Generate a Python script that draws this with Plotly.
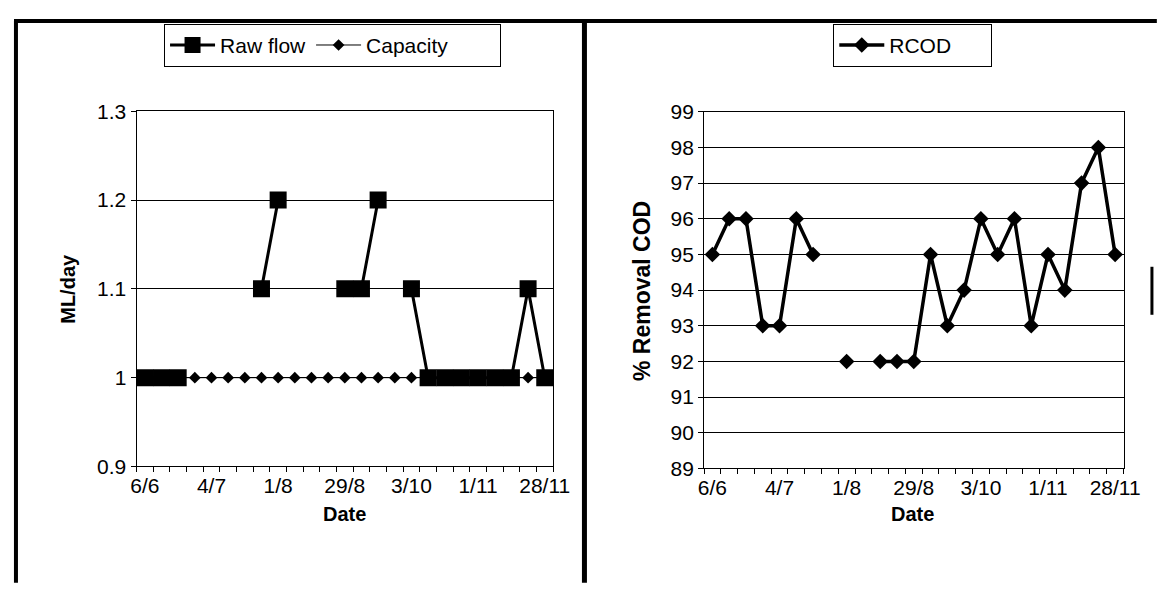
import plotly.graph_objects as go

# ---------------- data ----------------
dates = ["6/6", "13/6", "20/6", "27/6", "4/7", "11/7", "18/7", "25/7", "1/8",
         "8/8", "15/8", "22/8", "29/8", "12/9", "19/9", "26/9", "3/10", "10/10",
         "17/10", "24/10", "1/11", "8/11", "15/11", "22/11", "28/11"]
raw_flow = [1.0, 1.0, 1.0, None, None, None, None, 1.1, 1.2, None, None, None,
            1.1, 1.1, 1.2, None, 1.1, 1.0, 1.0, 1.0, 1.0, 1.0, 1.0, 1.1, 1.0]
capacity = [1.0] * 25
rcod = [95, 96, 96, 93, 93, 96, 95, None, 92, None, 92, 92, 92, 95, 93, 94,
        96, 95, 96, 93, 95, 94, 97, 98, 95]
left_yticks = [0.9, 1.0, 1.1, 1.2, 1.3]
left_yticktext = ["0.9", "1", "1.1", "1.2", "1.3"]
right_yticks = list(range(89, 100))

idx = list(range(len(dates)))
# the page body has an 8px margin; the figure is sized to fit inside the window
OFF = 8
W, H = 1174 - 2 * OFF, 594 - 2 * OFF
FONT = "Liberation Sans, Arial, sans-serif"
FS = 21
NB = "\u00a0"

def px_x(p):
    return (p - OFF) / W

def px_y(p):
    return 1 - (p - OFF) / H

fig = go.Figure()

fig.add_trace(go.Scatter(x=idx, y=capacity, name="Capacity" + NB * 8, mode="lines+markers",
                         line=dict(color="black", width=1),
                         marker=dict(symbol="diamond", size=9, color="black"),
                         xaxis="x", yaxis="y", legend="legend", legendrank=2))
fig.add_trace(go.Scatter(x=idx, y=raw_flow, name="Raw flow", mode="lines+markers",
                         line=dict(color="black", width=3),
                         marker=dict(symbol="square", size=17, color="black"),
                         xaxis="x", yaxis="y", legend="legend", legendrank=1))
fig.add_trace(go.Scatter(x=idx, y=rcod, name="RCOD" + NB * 6, mode="lines+markers",
                         line=dict(color="black", width=3.5),
                         marker=dict(symbol="diamond", size=12, color="black"),
                         xaxis="x2", yaxis="y2", legend="legend2"))

common_x = dict(range=[-0.5, len(dates) - 0.5], tickvals=idx[::4], ticktext=dates[::4],
                ticks="", showgrid=False, zeroline=False, showline=True,
                linecolor="black", linewidth=1, mirror=True,
                tickfont=dict(family=FONT, size=FS, color="black"),
                minor=dict(tickvals=[i - 0.5 for i in range(len(dates) + 1)],
                           ticks="outside", ticklen=5, tickcolor="black", showgrid=False))
common_y = dict(showgrid=True, gridcolor="black", gridwidth=1, zeroline=False,
                showline=True, linecolor="black", linewidth=1, mirror=True,
                ticks="outside", ticklen=5, tickcolor="black",
                tickfont=dict(family=FONT, size=FS, color="black"))

fig.update_layout(
    width=W, height=H, margin=dict(l=0, r=0, t=0, b=0),
    paper_bgcolor="white", plot_bgcolor="white",
    font=dict(family=FONT, size=FS, color="black"),
    xaxis=dict(domain=[px_x(133), px_x(558)], anchor="y", **common_x),
    yaxis=dict(domain=[px_y(473), px_y(103)], anchor="x", range=[0.9, 1.3],
               tickvals=left_yticks, ticktext=left_yticktext, **common_y),
    xaxis2=dict(domain=[px_x(712), px_x(1140)], anchor="y2", **common_x),
    yaxis2=dict(domain=[px_y(475), px_y(103.6)], anchor="x2", range=[89, 99],
                tickvals=right_yticks, **common_y),
    legend=dict(orientation="h", x=px_x(333), xanchor="center", y=px_y(12), yanchor="top",
                bordercolor="black", borderwidth=1, bgcolor="white",
                font=dict(family=FONT, size=FS, color="black"),
                traceorder="normal", itemwidth=45),
    legend2=dict(orientation="h", x=px_x(925), xanchor="center", y=px_y(12), yanchor="top",
                 bordercolor="black", borderwidth=1, bgcolor="white",
                 font=dict(family=FONT, size=FS, color="black"), itemwidth=45),
    showlegend=True,
)

# axis titles
ann = [
    dict(text="<b>ML/day</b>", x=px_x(63), y=px_y(288), textangle=-90, size=20),
    dict(text="<b>% Removal COD</b>", x=px_x(648), y=px_y(290), textangle=-90, size=23),
    dict(text="<b>Date</b>", x=px_x(345), y=px_y(522), size=20),
    dict(text="<b>Date</b>", x=px_x(925), y=px_y(522), size=20),
]
for a in ann:
    sz = a.pop("size")
    fig.add_annotation(xref="paper", yref="paper", showarrow=False,
                       xanchor="center", yanchor="middle",
                       font=dict(family=FONT, size=sz, color="black"), **a)

# panel borders
borders = [
    dict(x0=8, y0=9, x1=1174, y1=9, w=4),
    dict(x0=10, y0=9, x1=10, y1=594, w=4),
    dict(x0=590, y0=9, x1=590, y1=594, w=5),
    dict(x0=1169, y0=265, x1=1169, y1=315, w=3),
]
for b in borders:
    fig.add_shape(type="line", xref="paper", yref="paper",
                  x0=px_x(b["x0"]), y0=px_y(b["y0"]), x1=px_x(b["x1"]), y1=px_y(b["y1"]),
                  line=dict(color="black", width=b["w"]))

fig.write_html("out.html", config={"displayModeBar": False})
